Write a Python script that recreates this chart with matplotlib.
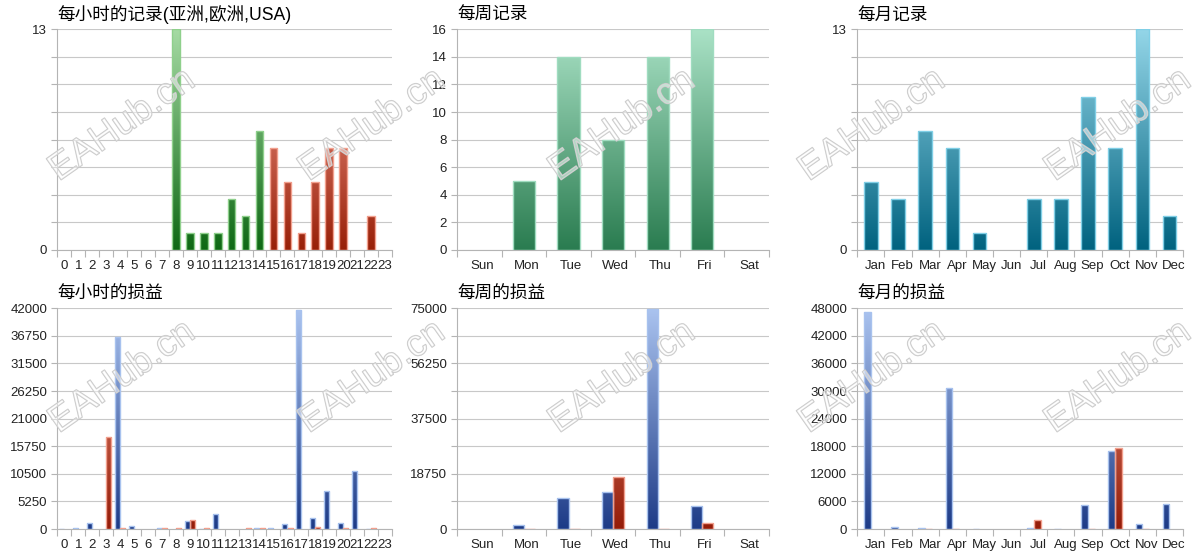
# coding:utf-8
import numpy as np
import matplotlib
matplotlib.use('Agg')
import matplotlib.pyplot as plt
import matplotlib.patheffects as pe
from matplotlib.colors import LinearSegmentedColormap

plt.rcParams['font.family'] = ['Liberation Sans', 'Noto Sans CJK SC', 'DejaVu Sans']

# 数据
hour_labels = [str(h) for h in range(24)]
hour_trades = [0, 0, 0, 0, 0, 0, 0, 0, 13, 1, 1, 1, 3, 2, 7, 6, 4, 1, 4, 6, 6, 0, 2, 0]
hour_profit = [60, 150, 1080, 0, 36460, 630, 0, 130, 0, 1460, 50, 2790,
               0, 0, 130, 130, 890, 41650, 2150, 7230, 1080, 11030, 60, 0]
hour_loss = [0, 0, 0, 17560, 100, 0, 0, 100, 100, 1650, 100, 0,
             0, 100, 100, 0, 100, 0, 440, 0, 100, 0, 130, 0]

day_labels = ['Sun', 'Mon', 'Tue', 'Wed', 'Thu', 'Fri', 'Sat']
day_trades = [0, 5, 14, 8, 14, 16, 0]
day_profit = [0, 1250, 10420, 12460, 74780, 7820, 0]
day_loss = [0, 150, 150, 17560, 150, 1930, 0]

month_labels = ['Jan', 'Feb', 'Mar', 'Apr', 'May', 'Jun',
                'Jul', 'Aug', 'Sep', 'Oct', 'Nov', 'Dec']
month_trades = [4, 3, 7, 6, 1, 0, 3, 3, 9, 6, 13, 2]
month_profit = [47130, 360, 200, 30600, 60, 0, 200, 60, 5220, 16890, 1090, 5510]
month_loss = [0, 0, 100, 100, 0, 0, 1960, 0, 100, 17620, 100, 0]

# 颜色 (top, bottom, edge)
GREEN = ('#a6dba4', '#0e6814', '#8fd08c')
RED = ('#fea99c', '#982008', '#f2a08e')
MINT = ('#aae2c6', '#2a7c50', '#a0dcc0')
TEAL = ('#94d6e8', '#00627f', '#80cfe6')
BLUE = ('#abc4f0', '#1d3b87', '#a8c2ee')
RED2 = ('#f09a84', '#951c08', '#f2a08e')

W, H = 1200, 558
fig = plt.figure(figsize=(W / 100, H / 100), dpi=100)


def make_axes(col, row):
    lefts = [57.3, 457.3, 857.3]
    rights = [392, 769, 1183]
    tops = [29.3, 308.3]
    h = 220.7
    return fig.add_axes([lefts[col] / W, 1 - (tops[row] + h) / H,
                         (rights[col] - lefts[col]) / W, h / H])


def grad_bar(ax, x, h, w, ymax, style):
    if h <= 0:
        return
    top, bottom, edge = style
    cmap = LinearSegmentedColormap.from_list('', [bottom, top])
    rect = ax.bar(x, h, w, color='none', edgecolor=edge, linewidth=1, zorder=3)[0]
    im = ax.imshow(np.linspace(0, 1, 256).reshape(-1, 1), cmap=cmap, origin='lower',
                   aspect='auto', extent=(x - w / 2, x + w / 2, 0, ymax), zorder=2)
    im.set_clip_path(rect)


def setup(ax, labels, ymax, ylabels, title, shift):
    n = len(labels)
    ax.set_xlim(-0.5, n - 0.5)
    ax.set_ylim(0, ymax)
    ax.set_xticks(np.arange(n + 1) - 0.5)
    ax.set_xticklabels([])
    ax.set_xticks(np.arange(n) + shift, minor=True)
    ax.set_xticklabels(labels, minor=True)
    ax.tick_params(axis='x', which='major', length=5, color='#b4b4b4', width=0.8)
    ax.tick_params(axis='x', which='minor', length=0, pad=7, labelsize=9.5, labelcolor='#222222')
    ax.set_yticks(np.linspace(0, ymax, 9))
    ax.set_yticklabels(ylabels)
    ax.tick_params(axis='y', length=4.3, color='#b4b4b4', width=0.8, pad=3,
                   labelsize=9.5, labelcolor='#222222')
    ax.grid(axis='y', color='#c8c8c8', linewidth=0.8)
    ax.set_axisbelow(True)
    for s in ['top', 'right']:
        ax.spines[s].set_visible(False)
    for s in ['left', 'bottom']:
        ax.spines[s].set_color('#b4b4b4')
        ax.spines[s].set_linewidth(0.8)
    ax.set_title(title, loc='left', fontsize=12.7, pad=7)


def only_ends(ymax):
    return ['0'] + [''] * 7 + [str(ymax)]


# 每小时的记录
ax = make_axes(0, 0)
for i, v in enumerate(hour_trades):
    grad_bar(ax, i, v, 0.55, 13, GREEN if i < 15 else RED)
setup(ax, hour_labels, 13, only_ends(13), '每小时的记录(亚洲,欧洲,USA)', 0)

# 每周记录
ax = make_axes(1, 0)
for i, v in enumerate(day_trades):
    grad_bar(ax, i, v, 0.5, 16, MINT)
setup(ax, day_labels, 16, [str(v) for v in range(0, 17, 2)], '每周记录', 0.05)

# 每月记录
ax = make_axes(2, 0)
for i, v in enumerate(month_trades):
    grad_bar(ax, i, v, 0.5, 13, TEAL)
setup(ax, month_labels, 13, only_ends(13), '每月记录', 0.17)

# 每小时的损益
ax = make_axes(0, 1)
for i in range(24):
    grad_bar(ax, i - 0.19, hour_profit[i], 0.36, 42000, BLUE)
    grad_bar(ax, i + 0.19, hour_loss[i], 0.36, 42000, RED2)
setup(ax, hour_labels, 42000, [str(int(v)) for v in np.linspace(0, 42000, 9)], '每小时的损益', 0)

# 每周的损益
ax = make_axes(1, 1)
for i in range(7):
    grad_bar(ax, i - 0.125, day_profit[i], 0.25, 75000, BLUE)
    grad_bar(ax, i + 0.125, day_loss[i], 0.25, 75000, RED2)
setup(ax, day_labels, 75000,
      ['0', '', '18750', '', '37500', '', '56250', '', '75000'], '每周的损益', 0.05)

# 每月的损益
ax = make_axes(2, 1)
for i in range(12):
    grad_bar(ax, i - 0.125, month_profit[i], 0.25, 48000, BLUE)
    grad_bar(ax, i + 0.125, month_loss[i], 0.25, 48000, RED2)
setup(ax, month_labels, 48000, [str(int(v)) for v in np.linspace(0, 48000, 9)], '每月的损益', 0.17)

# 水印
for wy in [125, 377]:
    for wx in [122, 372, 622, 872, 1118]:
        fig.text(wx / W, 1 - wy / H, 'EAHub.cn', fontsize=27, rotation=35,
                 ha='center', va='center', rotation_mode='anchor',
                 family='Liberation Sans', color=(1, 1, 1, 0.3), zorder=10,
                 path_effects=[pe.Stroke(linewidth=0.9, foreground='#c8c8c8'), pe.Normal()])

fig.savefig('out.png', dpi=100)
